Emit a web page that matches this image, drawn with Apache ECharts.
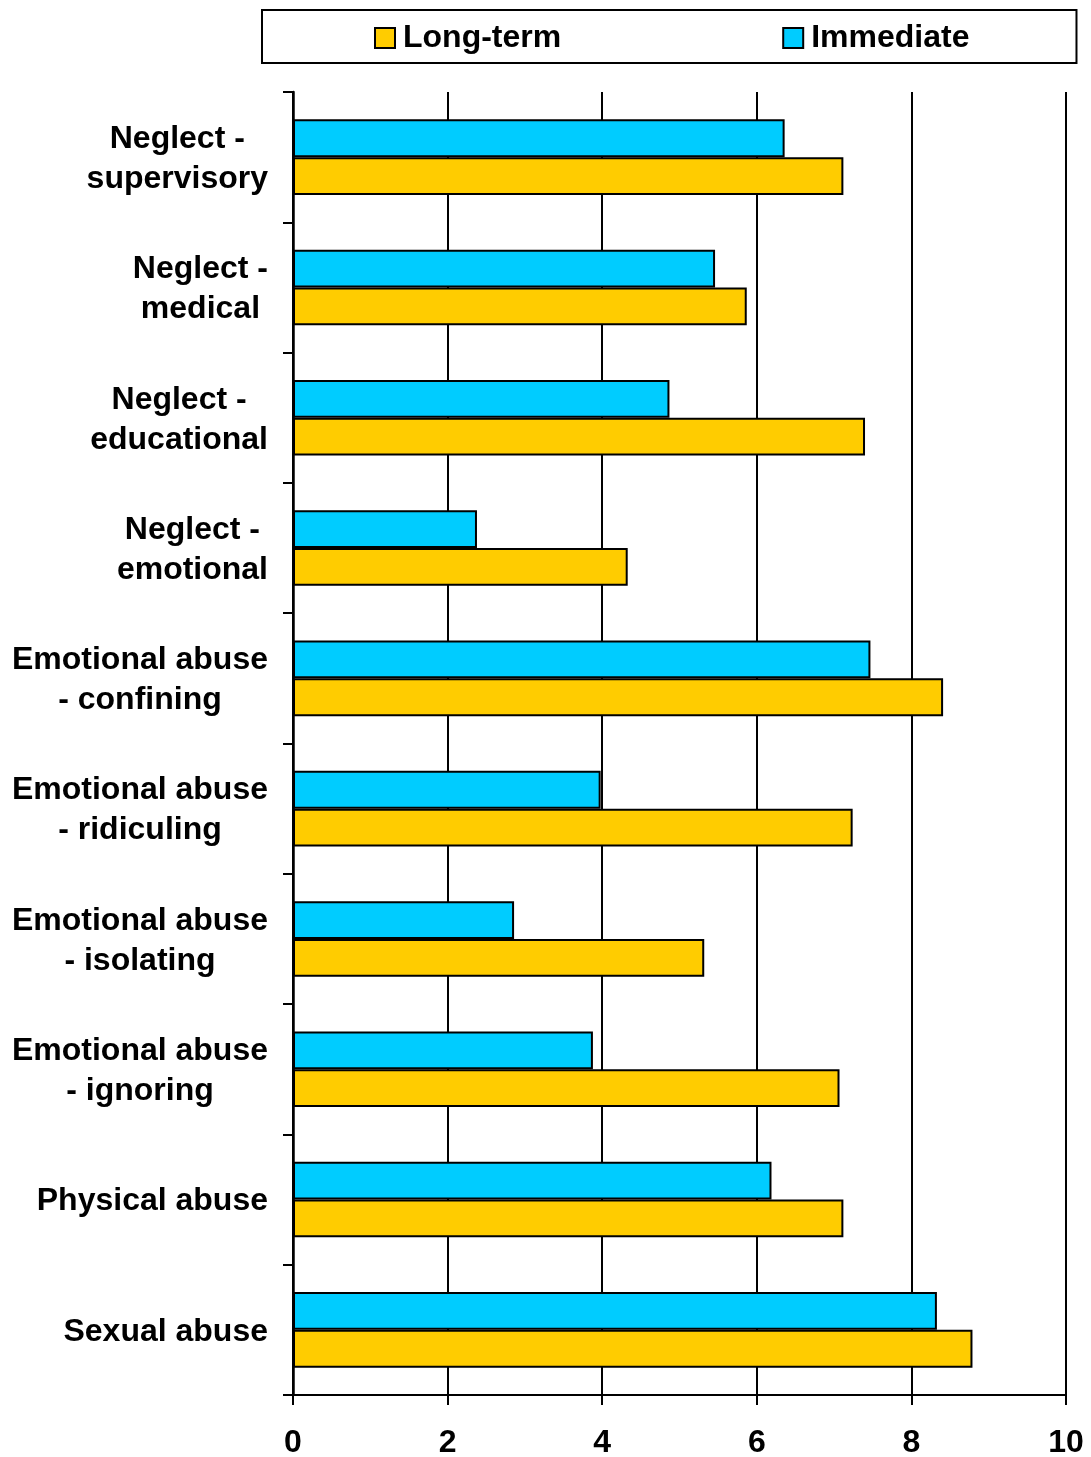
<!DOCTYPE html>
<html>
<head>
<meta charset="utf-8">
<script src="https://cdn.jsdelivr.net/npm/echarts@6/dist/echarts.min.js"></script>
<style>
  html, body { margin: 0; padding: 0; background: #fff; }
  #chart { width: 1091px; height: 1457px; }
</style>
</head>
<body>
<div id="chart"></div>
<script>
// categories, top to bottom
var categories = [
  'Neglect -\nsupervisory',
  'Neglect -\nmedical',
  'Neglect -\neducational',
  'Neglect -\nemotional',
  'Emotional abuse\n- confining',
  'Emotional abuse\n- ridiculing',
  'Emotional abuse\n- isolating',
  'Emotional abuse\n- ignoring',
  'Physical abuse',
  'Sexual abuse'
];
var immediate = [6.36, 5.46, 4.87, 2.38, 7.47, 3.98, 2.86, 3.88, 6.19, 8.33];
var longTerm = [7.12, 5.87, 7.40, 4.33, 8.41, 7.24, 5.32, 7.07, 7.12, 8.79];
var legendNames = ['Long-term', 'Immediate'];

var FONT = '"Liberation Sans", Arial, sans-serif';

var chart = echarts.init(document.getElementById('chart'));

var option = {
  backgroundColor: '#ffffff',
  animation: false,
  textStyle: { fontFamily: FONT },
  legend: {
    data: legendNames,
    left: 262,
    top: 10,
    padding: [12, 107, 9, 112],
    itemGap: 221,
    itemWidth: 20,
    itemHeight: 20,
    borderColor: '#000',
    borderWidth: 2,
    icon: 'rect',
    textStyle: {
      fontFamily: FONT,
      fontWeight: 'bold',
      fontSize: 32,
      color: '#000',
      padding: [0, 0, 0, 3]
    }
  },
  grid: {
    left: 293,
    right: 25,
    top: 92,
    bottom: 62,
    containLabel: false,
    outerBoundsMode: 'none'
  },
  xAxis: {
    type: 'value',
    min: 0,
    max: 10,
    interval: 2,
    axisLine: { show: true, lineStyle: { color: '#000', width: 2 } },
    axisTick: { show: true, length: 10, lineStyle: { color: '#000', width: 2 } },
    axisLabel: {
      margin: 32,
      color: '#000',
      fontFamily: FONT,
      fontWeight: 'bold',
      fontSize: 32
    },
    splitLine: { show: true, lineStyle: { color: '#000', width: 2 } }
  },
  yAxis: {
    type: 'category',
    data: categories,
    inverse: true,
    axisLine: { show: true, lineStyle: { color: '#000', width: 2.5 } },
    axisTick: { show: true, length: 10, lineStyle: { color: '#000', width: 2 } },
    axisLabel: {
      margin: 25,
      padding: [4, 0, 0, 0],
      color: '#000',
      fontFamily: FONT,
      fontWeight: 'bold',
      fontSize: 32,
      lineHeight: 40,
      formatter: function (v) {
        return v.split('\n').map(function (s) { return '{c|' + s + '}'; }).join('\n');
      },
      rich: {
        c: {
          align: 'center',
          color: '#000',
          fontFamily: FONT,
          fontWeight: 'bold',
          fontSize: 32,
          lineHeight: 40
        }
      }
    },
    splitLine: { show: false }
  },
  series: [
    {
      name: 'Immediate',
      type: 'bar',
      data: immediate,
      barGap: '0%',
      barCategoryGap: '42%',
      itemStyle: { color: '#00ccff', borderColor: '#000', borderWidth: 2 }
    },
    {
      name: 'Long-term',
      type: 'bar',
      data: longTerm,
      barGap: '0%',
      barCategoryGap: '42%',
      itemStyle: { color: '#ffcc00', borderColor: '#000', borderWidth: 2 }
    }
  ]
};

chart.setOption(option);
</script>
</body>
</html>
